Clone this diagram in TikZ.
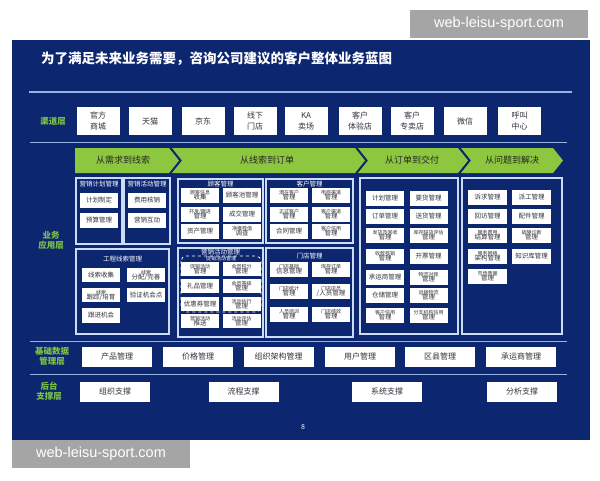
\documentclass[tikz,border=0pt]{standalone}
\usepackage{fontspec}
\setmainfont{Noto Sans CJK SC}
\newfontfamily\wmfont{Liberation Sans}

\definecolor{slidebg}{RGB}{12,38,112}
\definecolor{rulecol}{RGB}{150,180,225}
\definecolor{layergreen}{RGB}{125,195,70}
\definecolor{bannergreen}{RGB}{141,198,63}
\definecolor{framecol}{RGB}{205,220,245}
\definecolor{itemtext}{RGB}{50,50,60}
\definecolor{wmgray}{RGB}{165,165,165}

% small upper line squeezed on top of a box text
\newcommand{\twoln}[2]{{\fontsize{5}{5}\selectfont #1}\\[-2pt]#2}

\tikzset{
  chan/.style={fill=white, minimum width=43, minimum height=28, inner sep=0pt, align=center, font=\fontsize{8}{11}\selectfont, text=itemtext},
  item/.style={fill=white, minimum width=38, minimum height=14.5, inner sep=0pt, align=center, font=\fontsize{6.5}{7}\selectfont, text=itemtext},
  widebox/.style={fill=white, minimum width=70, minimum height=20, inner sep=0pt, font=\fontsize{8}{9}\selectfont, text=itemtext},
  appframe/.style={draw=framecol, line width=1.1pt, fill=slidebg},
  ftitle/.style={font=\fontsize{6.5}{7}\selectfont, text=white, inner sep=0pt},
  layerlbl/.style={font=\bfseries\fontsize{8.5}{10}\selectfont, text=layergreen, align=center, inner sep=0pt},
  banner/.style={fill=bannergreen},
  btext/.style={font=\fontsize{9}{10}\selectfont, text=black!85, inner sep=0pt},
  wmark/.style={fill=wmgray, text=white, font=\wmfont\fontsize{14.5}{16}\selectfont, minimum width=178, minimum height=28, inner sep=0pt}
}

\begin{document}
\begin{tikzpicture}[x=1pt, y=-1pt]
    \useasboundingbox (0,0) rectangle (600,480);
    \fill[white] (0,0) rectangle (600,480);

    % Slide background
    \fill[slidebg] (12,40) rectangle (590,440);

    % Title and rules
    \node[anchor=west, font=\bfseries\fontsize{13.5}{15}\selectfont, text=white, inner sep=0pt] (title) at (41,58.5) {为了满足未来业务需要，咨询公司建议的客户整体业务蓝图};
    \draw[rulecol, line width=1.5pt] (29,92) -- (572,92);
    \draw[rulecol, line width=1pt] (30,142) -- (567,142);
    \draw[rulecol, line width=1pt] (30,341) -- (567,341);
    \draw[rulecol, line width=1pt] (30,374) -- (567,374);

    % Layer labels
    \node[layerlbl] (lchan) at (53,121.5) {渠道层};
    \node[layerlbl] (lapp) at (51,240) {业务\\应用层};
    \node[layerlbl] (lbase) at (52,356) {基础数据\\管理层};
    \node[layerlbl] (lback) at (49,391) {后台\\支撑层};

    % Channel row
    \foreach \name/\x/\txt in {ch1/98/{官方\\商城}, ch2/150/天猫, ch3/203/京东, ch4/255/{线下\\门店}, ch5/306/{KA\\卖场}, ch6/360/{客户\\体验店}, ch7/412/{客户\\专卖店}, ch8/465/微信, ch9/519.5/{呼叫\\中心}}
        \node[chan] (\name) at (\x,121) {\txt};

    % Value chain banners
    \fill[banner] (75,148) -- (169,148) -- (179,160.5) -- (169,173) -- (75,173) -- cycle;
    \fill[banner] (172,148) -- (355,148) -- (365,160.5) -- (355,173) -- (172,173) -- (182,160.5) -- cycle;
    \fill[banner] (358,148) -- (458,148) -- (468,160.5) -- (458,173) -- (358,173) -- (368,160.5) -- cycle;
    \fill[banner] (461,148) -- (553,148) -- (563,160.5) -- (553,173) -- (461,173) -- (471,160.5) -- cycle;
    \node[btext] (b1) at (123,160.5) {从需求到线索};
    \node[btext] (b2) at (267,160.5) {从线索到订单};
    \node[btext] (b3) at (412,160.5) {从订单到交付};
    \node[btext] (b4) at (512,160.5) {从问题到解决};

    % Application frames
    \filldraw[appframe] (76,178) rectangle (122,244);
    \filldraw[appframe] (124,178) rectangle (170,244);
    \filldraw[appframe] (76,249) rectangle (169,334);
    \filldraw[appframe] (178,179) rectangle (263,243);
    \filldraw[appframe] (266,179) rectangle (353,243);
    \filldraw[appframe] (178,248) rectangle (263,337);
    \filldraw[appframe] (266,248) rectangle (353,337);
    \filldraw[appframe] (360,178) rectangle (458,334);
    \filldraw[appframe] (462,178) rectangle (562,334);

    % Frame titles
    \node[ftitle] (tplan) at (99,184) {营销计划管理};
    \node[ftitle] (tact) at (147,184) {营销活动管理};
    \node[ftitle] (tclue) at (122.5,259) {工程线索管理};
    \node[ftitle] (tcust) at (220.5,184) {顾客管理};
    \node[ftitle] (tclient) at (309.5,184) {客户管理};
    \node[ftitle] (tpromo) at (220.5,252) {营销活动管理};
    \node[ftitle] (tstore) at (309.5,256) {门店管理};

    % Marketing plan / activity
    \foreach \name/\x/\y/\txt in {pl1/99/200.5/计划制定, pl2/99/220.5/预算管理, ac1/147/200.5/费用核销, ac2/147/220.5/营销互动}
        \node[item] (\name) at (\x,\y) {\txt};

    % Leads
    \foreach \name/\x/\y/\txt in {cl1/101/275/线索收集, cl2/146/275/{\twoln{线索}{分配/完善}}, cl3/101/295/{\twoln{线索}{跟踪/培育}}, cl4/146/295/验证机会点, cl5/101/315.5/跟进机会}
        \node[item] (\name) at (\x,\y) {\txt};

    % Consumers and customers
    \foreach \name/\x/\y/\txt in {cu1/200/195.5/{\twoln{顾客信息}{收集}}, cu2/242/195.5/顾客池管理, cu3/200/214.5/{\twoln{开发/跟进}{管理}}, cu4/242/214.5/成交管理, cu5/200/231.5/资产管理, cu6/242/231.5/{\twoln{净推荐值}{调查}},
        cc1/289/195.5/{\twoln{潜在客户}{管理}}, cc2/331/195.5/{\twoln{电商渠道}{管理}}, cc3/289/214.5/{\twoln{正式客户}{管理}}, cc4/331/214.5/{\twoln{客户渠道}{管理}}, cc5/289/231.5/合同管理, cc6/331/231.5/{\twoln{客户信用}{管理}}}
        \node[item] (\name) at (\x,\y) {\txt};

    % Promotion with dashed group
    \foreach \name/\x/\y/\txt in {pr1/200/269/{\twoln{促销活动}{管理}}, pr2/241.5/269/{\twoln{会员积分}{管理}}, pr3/200/286/礼品管理, pr4/241.5/286/{\twoln{会员等级}{管理}}, pr5/200/304/优惠券管理, pr6/241.5/304/{\twoln{活动执行}{管理}}, pr7/200/321/{\twoln{营销活动}{推送}}, pr8/241.5/321/{\twoln{活动评估}{管理}}}
        \node[item] (\name) at (\x,\y) {\txt};
    \draw[white, dashed, line width=0.8pt, rounded corners=5pt] (181,256) rectangle (261,312);
    \node[ftitle, font=\fontsize{5}{5}\selectfont] (tdash) at (221,258.5) {促销活动管理};

    % Stores
    \foreach \name/\x/\y/\txt in {st1/289/269.5/{\twoln{门店基础}{信息管理}}, st2/331/269.5/{\twoln{库存订单}{管理}}, st3/289/291/{\twoln{门店统计}{管理}}, st4/331/291/{\twoln{门店店员}{/人员管理}}, st5/289/314.5/{\twoln{人员培训}{管理}}, st6/331/314.5/{\twoln{门店绩效}{管理}}}
        \node[item, minimum height=15] (\name) at (\x,\y) {\txt};

    % Order to delivery
    \foreach \name/\x/\y/\txt in {de1/385/198/计划管理, de2/428.5/198/要货管理, de3/385/216.5/订单管理, de4/428.5/216.5/送货管理, de5/385/235.5/{\twoln{发货及回收}{管理}}, de6/428.5/235.5/{\twoln{库存缺货评估}{管理}}, de7/385/256.5/{\twoln{收款核销}{管理}}, de8/428.5/256.5/开票管理, de9/385/277.5/承运商管理, de10/428.5/277.5/{\twoln{物流对账}{管理}}, de11/385/295.5/仓储管理, de12/428.5/295.5/{\twoln{运输物流}{管理}}, de13/385/315.5/{\twoln{客户信用}{管理}}, de14/428.5/315.5/{\twoln{分支机构信用}{管理}}}
        \node[item, minimum height=15] (\name) at (\x,\y) {\txt};

    % Issue to resolution
    \foreach \name/\x/\y/\txt in {sv1/487.5/197.5/诉求管理, sv2/531.5/197.5/派工管理, sv3/487.5/216.5/回访管理, sv4/531.5/216.5/配件管理, sv5/487.5/235.5/{\twoln{服务费用}{结算管理}}, sv6/531.5/235.5/{\twoln{故障诊断}{管理}}, sv7/487.5/256/{\twoln{服务网络}{架构管理}}, sv8/531.5/256/知识库管理, sv9/487.5/276.5/{\twoln{市场质量}{管理}}}
        \node[item, minimum width=39, minimum height=15] (\name) at (\x,\y) {\txt};

    % Master data row
    \foreach \name/\x/\txt in {md1/117/产品管理, md2/198/价格管理, md3/278.5/组织架构管理, md4/360/用户管理, md5/440/区县管理, md6/521/承运商管理}
        \node[widebox] (\name) at (\x,356.5) {\txt};

    % Back-end support row
    \foreach \name/\x/\txt in {bk1/115/组织支撑, bk2/243.5/流程支撑, bk3/387/系统支撑, bk4/522/分析支撑}
        \node[widebox] (\name) at (\x,391.5) {\txt};

    % Page number
    \node[text=white, font=\fontsize{7}{8}\selectfont, inner sep=0pt] (pnum) at (303,427) {8};

    % Watermarks
    \node[wmark] (wm1) at (499,24) {web-leisu-sport.com};
    \node[wmark] (wm2) at (101,454) {web-leisu-sport.com};
\end{tikzpicture}
\end{document}
